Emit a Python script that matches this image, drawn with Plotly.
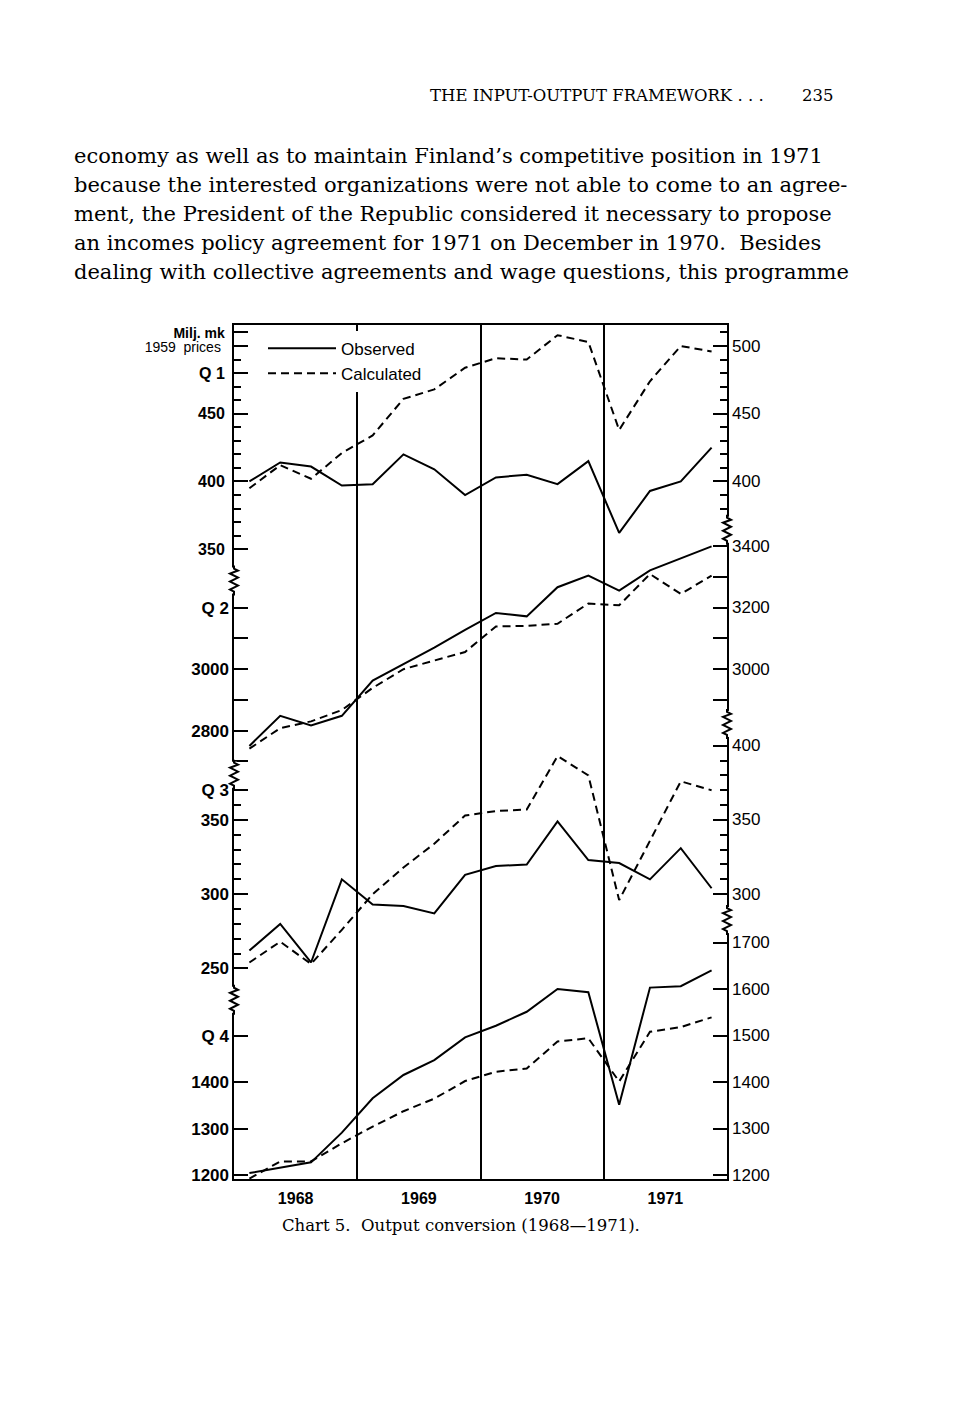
import plotly.graph_objects as go

# ---------------- data ----------------
years = ["1968", "1969", "1970", "1971"]
quarters = [i + 0.5 for i in range(16)]          # 1968 Q1 ... 1971 Q4

q1_obs  = [400, 414, 411, 397, 398, 420, 409, 390, 403, 405, 398, 415, 362, 393, 400, 425]
q1_calc = [395, 412, 402, 421, 434, 461, 468, 484, 491, 490, 508, 503, 438, 474, 500, 496]
q2_obs  = [2750, 2848, 2817, 2848, 2963, 3017, 3070, 3128, 3183, 3172, 3267, 3305, 3256, 3322, 3360, 3400]
q2_calc = [2741, 2808, 2830, 2867, 2939, 3000, 3028, 3056, 3139, 3141, 3148, 3214, 3208, 3310, 3245, 3305]
q3_obs  = [262, 280, 254, 310, 293, 292, 287, 313, 319, 320, 349, 323, 321, 310, 331, 304]
q3_calc = [254, 268, 253, 276, 300, 318, 334, 353, 356, 357, 393, 380, 296, 336, 376, 370]
q4_obs  = [1205, 1216, 1228, 1292, 1366, 1416, 1448, 1497, 1522, 1552, 1601, 1594, 1352, 1604, 1607, 1641]
q4_calc = [1193, 1230, 1230, 1269, 1305, 1338, 1365, 1403, 1423, 1430, 1488, 1495, 1402, 1509, 1519, 1540]

# right-hand scale labels per panel
q1_right = [400, 450, 500]
q2_right = [3000, 3200, 3400]
q3_right = [300, 350, 400]
q4_right = [1200, 1300, 1400, 1500, 1600, 1700]

body_lines = [
    "economy as well as to maintain Finland\u2019s competitive position in 1971",
    "because the interested organizations were not able to come to an agree-",
    "ment, the President of the Republic considered it necessary to propose",
    "an incomes policy agreement for 1971 on December in 1970.  Besides",
    "dealing with collective agreements and wage questions, this programme",
]

# ---------------- layout helpers ----------------
W, H = 960, 1422
X0, X1 = 234, 727
Y_TOP, Y_BOT = 326, 1184


def fx(p):
    return p / W


def fy(p):
    return 1 - p / H


# per-panel scale: (reference value, pixel row of it, pixels per unit)
cal = {
    "Q1": (400, 483.5, 1.36),
    "Q2": (3000, 672.0, 0.3083),
    "Q3": (325, 860.7, 1.491),
    "Q4": (1400, 1087.0, 0.4667),
}


def yrange(c):
    v, p, s = c
    return [v - (Y_BOT - p) / s, v + (p - Y_TOP) / s]


SANS = "Liberation Sans, Arial, Helvetica, sans-serif"
SERIF = "DejaVu Serif, serif"


def yaxis(panel, side, major, labels, minor, base=False, showline=False):
    d = dict(
        range=yrange(cal[panel]),
        tickmode="array", tickvals=major, ticktext=labels,
        ticks="inside", ticklen=14, tickwidth=2, tickcolor="black",
        minor=dict(tickmode="array", tickvals=minor, ticks="inside",
                   ticklen=7, tickwidth=1.5, tickcolor="black", showgrid=False),
        showgrid=False, zeroline=False,
        tickfont=dict(family=SANS, size=17, color="black"),
        ticklabelstandoff=4,
        anchor="x", side=side,
        showline=showline, linecolor="black", linewidth=2,
        fixedrange=True,
    )
    if base:
        d["domain"] = [fy(Y_BOT), fy(Y_TOP)]
    else:
        d["overlaying"] = "y"
    return d


def b(t):
    return "<b>" + t + "</b>"


def small(t):
    return '<span style="font-size:14px">' + t + "</span>"


fig = go.Figure()

panels = [
    ("Q1", "y", q1_obs, q1_calc),
    ("Q2", "y3", q2_obs, q2_calc),
    ("Q3", "y5", q3_obs, q3_calc),
    ("Q4", "y7", q4_obs, q4_calc),
]
for name, ya, obs, calc in panels:
    fig.add_trace(go.Scatter(
        x=quarters, y=obs, yaxis=ya, mode="lines", name="Observed",
        legendgroup="obs", showlegend=(name == "Q1"),
        line=dict(color="black", width=2)))
for name, ya, obs, calc in panels:
    fig.add_trace(go.Scatter(
        x=quarters, y=calc, yaxis=ya, mode="lines", name="Calculated",
        legendgroup="calc", showlegend=(name == "Q1"),
        line=dict(color="black", width=2, dash="8px,5px")))

layout_axes = dict(
    # Q1
    yaxis=yaxis("Q1", "left", [350, 400, 450, 480, 500, 510],
                [b("350"), b("400"), b("450"), b("Q 1"),
                 small("1959  prices "), small(b("Milj. mk"))],
                [360, 370, 380, 390, 410, 420, 430, 440, 460, 470, 490],
                base=True, showline=True),
    yaxis2=yaxis("Q1", "right", q1_right, [""] * len(q1_right),
                 [380, 390, 410, 420, 430, 440, 460, 470, 480, 490, 510],
                 showline=True),
    # Q2
    yaxis3=yaxis("Q2", "left", [2700, 2800, 2900, 3000, 3100, 3200],
                 ["", b("2800"), "", b("3000"), "", b("Q 2")], []),
    yaxis4=yaxis("Q2", "right", [2900, 3000, 3100, 3200, 3300, 3400],
                 [""] * 6, []),
    # Q3
    yaxis5=yaxis("Q3", "left", [250, 300, 350, 370],
                 [b("250"), b("300"), b("350"), b("Q 3")],
                 [260, 270, 280, 290, 310, 320, 330, 340, 360]),
    yaxis6=yaxis("Q3", "right", q3_right, [""] * len(q3_right),
                 [310, 320, 330, 340, 360, 370, 380, 390]),
    # Q4
    yaxis7=yaxis("Q4", "left", [1200, 1300, 1400, 1500],
                 [b("1200"), b("1300"), b("1400"), b("Q 4")], []),
    yaxis8=yaxis("Q4", "right", q4_right, [""] * len(q4_right), []),
)
layout_axes["yaxis"]["tickfont"]["size"] = 16

fig.update_layout(
    width=W, height=H,
    margin=dict(l=0, r=0, t=0, b=0),
    paper_bgcolor="white", plot_bgcolor="white",
    xaxis=dict(
        domain=[fx(X0), fx(X1)], range=[0, 16],
        tickmode="array", tickvals=[2, 6, 10, 14], ticktext=years,
        ticks="", showgrid=False, zeroline=False,
        minor=dict(tickmode="array", tickvals=[4, 8, 12], showgrid=True,
                   gridcolor="black", gridwidth=1.5, ticks=""),
        showline=True, mirror=True, linecolor="black", linewidth=2,
        tickfont=dict(family=SANS, size=16, color="black", weight="bold"),
        ticklabelstandoff=4,
        anchor="y", fixedrange=True,
    ),
    legend=dict(
        x=fx(263), y=fy(332), xanchor="left", yanchor="top",
        bgcolor="white", borderwidth=0, itemwidth=68,
        font=dict(family=SANS, size=17, color="black"),
        tracegroupgap=0,
    ),
    showlegend=True,
    **layout_axes,
)

# ---------------- axis-break squiggles ----------------
breaks = [  # (x pixel of axis, pixel row of centre)
    (X0, 583), (X0, 778), (X0, 1004),
    (X1, 532), (X1, 727), (X1, 924),
]
zig = "M0,-15 L0,-11 L-4,-9 L4,-5 L-4,-1 L4,3 L-4,7 L4,10 L0,12 L0,15"
for xp, row in breaks:
    common = dict(xref="paper", xsizemode="pixel", xanchor=fx(xp),
                  yref="paper", ysizemode="pixel", yanchor=fy(row), layer="above")
    fig.add_shape(type="rect", x0=-3, x1=3, y0=-13, y1=13,
                  fillcolor="white", line=dict(width=0), **common)
    fig.add_shape(type="path", path=zig, line=dict(color="black", width=2), **common)

# ---------------- texts ----------------
ann = []
# right-hand scale labels, placed on each panel's own scale
for ya, vals in (("y2", q1_right), ("y4", q2_right), ("y6", q3_right), ("y8", q4_right)):
    for v in vals:
        ann.append(dict(text=str(v), x=fx(X1 + 3), y=v, xref="paper", yref=ya,
                        xanchor="left", yanchor="middle", showarrow=False,
                        font=dict(family=SANS, size=17, color="black")))

page = []
page.append(dict(text="THE INPUT-OUTPUT FRAMEWORK . . .", x=fx(428), y=fy(96),
                 xanchor="left", yanchor="middle", showarrow=False,
                 font=dict(family=SERIF, size=16.5, color="black")))
page.append(dict(text="235", x=fx(836), y=fy(96), xanchor="right", yanchor="middle",
                 showarrow=False, font=dict(family=SERIF, size=16.5, color="black")))
for k, line in enumerate(body_lines):
    page.append(dict(text=line, x=fx(72), y=fy(157 + 29 * k), xanchor="left",
                     yanchor="middle", showarrow=False,
                     font=dict(family=SERIF, size=21, color="black")))
page.append(dict(text="Chart 5.  Output conversion (1968\u20141971).", x=fx(461), y=fy(1231),
                 xanchor="center", yanchor="middle", showarrow=False,
                 font=dict(family=SERIF, size=16.5, color="black")))
for a in page:
    a["xref"] = "paper"
    a["yref"] = "paper"
fig.update_layout(annotations=ann + page)

fig.write_html("out.html")
